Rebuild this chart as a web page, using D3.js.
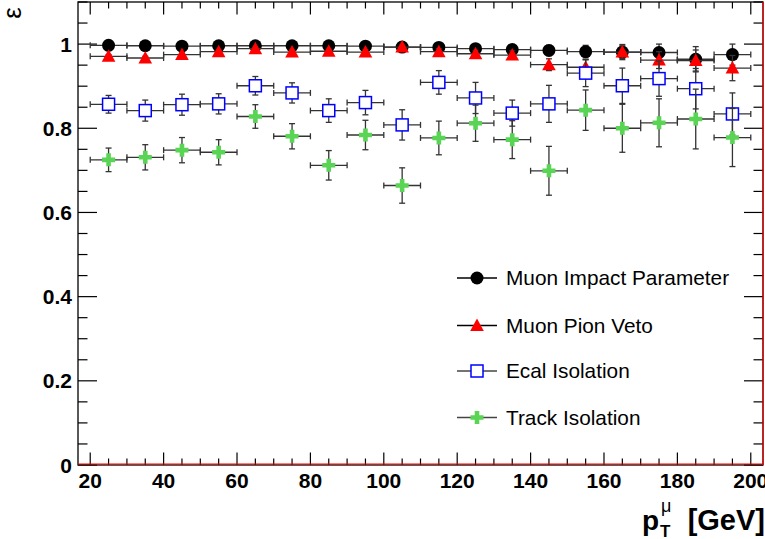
<!DOCTYPE html>
<html><head><meta charset="utf-8">
<script src="https://cdn.jsdelivr.net/npm/d3@7"></script>
<style>body{margin:0;background:#fff}svg{display:block}text{font-family:"Liberation Sans",Arial,Helvetica,sans-serif}</style>
</head><body><svg id="c" width="765" height="539"></svg>
<script>
const pt = [25,35,45,55,65,75,85,95,105,115,125,135,145,155,165,175,185,195];
const binHalf = 5;
const impact    = [0.997,0.996,0.995,0.996,0.996,0.996,0.996,0.995,0.993,0.992,0.989,0.987,0.985,0.982,0.981,0.980,0.964,0.975];
const impactErr = [0.003,0.003,0.004,0.004,0.005,0.005,0.005,0.006,0.007,0.008,0.009,0.010,0.012,0.015,0.018,0.020,0.030,0.025];
const veto      = [0.971,0.967,0.975,0.982,0.989,0.981,0.983,0.981,0.993,0.982,0.977,0.974,0.951,0.945,0.981,0.962,0.961,0.943];
const vetoErr   = [0.004,0.004,0.004,0.004,0.004,0.005,0.005,0.006,0.005,0.007,0.008,0.010,0.014,0.018,0.015,0.020,0.025,0.030];
const ecal      = [0.857,0.842,0.856,0.858,0.901,0.884,0.842,0.861,0.808,0.909,0.872,0.836,0.858,0.931,0.901,0.918,0.894,0.834];
const ecalErr   = [0.021,0.025,0.025,0.024,0.022,0.024,0.028,0.029,0.036,0.028,0.037,0.031,0.044,0.032,0.042,0.042,0.048,0.050];
const track     = [0.725,0.731,0.748,0.743,0.828,0.781,0.712,0.784,0.664,0.777,0.812,0.773,0.699,0.843,0.800,0.813,0.822,0.778];
const trackErr  = [0.028,0.030,0.030,0.030,0.028,0.030,0.035,0.035,0.042,0.040,0.043,0.045,0.058,0.048,0.057,0.057,0.071,0.069];
const seriesNames = ["Muon Impact Parameter","Muon Pion Veto","Ecal Isolation","Track Isolation"];
const xTicks = [20,40,60,80,100,120,140,160,180,200];
const yTicks = [0,0.2,0.4,0.6,0.8,1];

const L=78, R=763, T=2, B=465;
const x = d3.scaleLinear().domain([16.67,203.33]).range([L,R]);
const y = d3.scaleLinear().domain([0,1.1]).range([B,T]);
const svg = d3.select("#c");

const series = [
  {name:seriesNames[0], v:impact, e:impactErr, type:"circle", color:"#000", lc:"#000"},
  {name:seriesNames[1], v:veto, e:vetoErr, type:"triangle", color:"#ff0000", lc:"#000"},
  {name:seriesNames[2], v:ecal, e:ecalErr, type:"square", color:"#0000ff", lc:"#444"},
  {name:seriesNames[3], v:track, e:trackErr, type:"cross", color:"#59d454", lc:"#444"}
];

function marker(g, type, color, cx, cy){
  if(type==="circle") g.append("circle").attr("cx",cx).attr("cy",cy).attr("r",6.5).attr("fill",color);
  else if(type==="triangle") g.append("path").attr("d",`M${cx},${cy-7}L${cx+6.8},${cy+5.5}L${cx-6.8},${cy+5.5}Z`).attr("fill",color);
  else if(type==="square") g.append("rect").attr("x",cx-6).attr("y",cy-6).attr("width",12).attr("height",12).attr("fill","#fff").attr("stroke",color).attr("stroke-width",1.5);
  else if(type==="cross") g.append("path").attr("d",`M${cx-2.3},${cy-6.5}h4.6v4.2h4.2v4.6h-4.2v4.2h-4.6v-4.2h-4.2v-4.6h4.2Z`).attr("fill",color);
}

// frame
svg.append("rect").attr("x",L).attr("y",T).attr("width",R-L).attr("height",B-T).attr("fill","none").attr("stroke","#000").attr("stroke-width",1.3);

// ticks
const tg = svg.append("g").attr("stroke","#000").attr("stroke-width",1.2);
for(let v=20; v<=200; v+=5){
  const major = v%20===0;
  const len = major?12.5:6.5;
  tg.append("line").attr("x1",x(v)).attr("x2",x(v)).attr("y1",B).attr("y2",B-len);
  tg.append("line").attr("x1",x(v)).attr("x2",x(v)).attr("y1",T).attr("y2",T+len);
}
for(let i=0;i<=22;i++){
  const v=i*0.05; const major = i%4===0;
  const len = major?19:9.5;
  tg.append("line").attr("x1",L).attr("x2",L+len).attr("y1",y(v)).attr("y2",y(v));
  tg.append("line").attr("x1",R).attr("x2",R-len).attr("y1",y(v)).attr("y2",y(v));
}
// red lines
svg.append("line").attr("x1",L).attr("x2",R).attr("y1",B-1).attr("y2",B-1).attr("stroke","#ff0000").attr("stroke-width",1.2);
svg.append("line").attr("x1",R).attr("x2",R).attr("y1",T).attr("y2",B).attr("stroke","#ff0000").attr("stroke-width",1.2);

// tick labels
svg.append("g").selectAll("text").data(xTicks).join("text")
  .attr("x",d=>x(d)).attr("y",487.5).attr("text-anchor","middle")
  .attr("font-size",21).attr("font-weight","bold").text(d=>d);
svg.append("g").selectAll("text").data(yTicks).join("text")
  .attr("x",72).attr("y",d=>y(d)+7.5).attr("text-anchor","end")
  .attr("font-size",21).attr("font-weight","bold").text(d=>d===0?"0":(d===1?"1":d.toFixed(1)));

// axis titles
svg.append("text").attr("transform","translate(21,13) rotate(-90)").attr("text-anchor","middle")
  .attr("font-size",26).text("ε");
svg.append("text").attr("x",642).attr("y",530).attr("font-size",28).attr("font-weight","bold").text("p");
svg.append("text").attr("x",661).attr("y",512).attr("font-size",18).text("μ");
svg.append("text").attr("x",660).attr("y",537).attr("font-size",17).attr("font-weight","bold").text("T");
svg.append("text").attr("x",765).attr("y",530).attr("text-anchor","end").attr("font-size",29).attr("font-weight","bold").text("[GeV]");

// data
series.forEach(s=>{
  const g = svg.append("g");
  pt.forEach((p,i)=>{
    const cx=x(p), cy=y(s.v[i]);
    const eg = g.append("g").attr("stroke","#333").attr("stroke-width",1.3);
    eg.append("line").attr("x1",x(p-binHalf)).attr("x2",x(p+binHalf)).attr("y1",cy).attr("y2",cy);
    eg.append("line").attr("x1",x(p-binHalf)).attr("x2",x(p-binHalf)).attr("y1",cy-3).attr("y2",cy+3);
    eg.append("line").attr("x1",x(p+binHalf)).attr("x2",x(p+binHalf)).attr("y1",cy-3).attr("y2",cy+3);
    const y1=y(s.v[i]+s.e[i]), y2=y(s.v[i]-s.e[i]);
    eg.append("line").attr("x1",cx).attr("x2",cx).attr("y1",y1).attr("y2",y2);
    eg.append("line").attr("x1",cx-3).attr("x2",cx+3).attr("y1",y1).attr("y2",y1);
    eg.append("line").attr("x1",cx-3).attr("x2",cx+3).attr("y1",y2).attr("y2",y2);
    marker(g,s.type,s.color,cx,cy);
  });
});

// legend
const legY=[278,325.5,371,417.5];
series.forEach((s,i)=>{
  const g=svg.append("g");
  g.append("line").attr("x1",457).attr("x2",497).attr("y1",legY[i]).attr("y2",legY[i]).attr("stroke",s.lc).attr("stroke-width",1.3);
  marker(g,s.type,s.color,477,legY[i]);
  g.append("text").attr("x",506).attr("y",legY[i]+7).attr("font-size",20.8).text(s.name);
});
</script></body></html>
